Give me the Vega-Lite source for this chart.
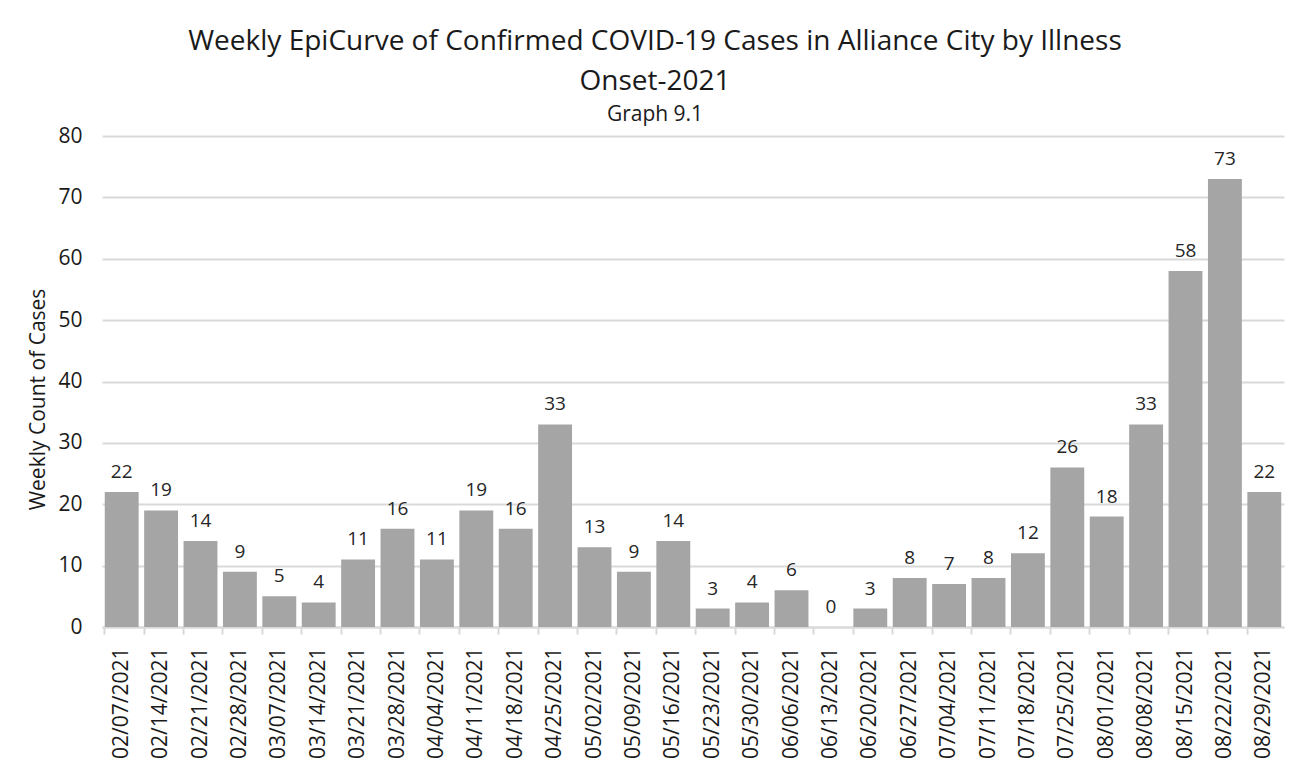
{
  "$schema": "https://vega.github.io/schema/vega-lite/v6.json",
  "autosize": "none",
  "width": 1182,
  "height": 491,
  "padding": {"left": 102, "top": 136, "right": 15, "bottom": 148},
  "background": "white",
  "config": {
    "font": "Open Sans",
    "view": {"stroke": null}
  },
  "title": {
    "text": ["Weekly EpiCurve of Confirmed COVID-19 Cases in Alliance City by Illness", "Onset-2021"],
    "subtitle": "Graph 9.1",
    "anchor": "middle",
    "frame": "group",
    "dx": -38,
    "offset": 0,
    "fontSize": 28,
    "fontWeight": "normal",
    "lineHeight": 40,
    "color": "#1a1a1a",
    "subtitleFontSize": 21,
    "subtitleColor": "#1a1a1a",
    "subtitlePadding": 8
  },
  "data": {
    "values": [
      {"week": "02/07/2021", "cases": 22},
      {"week": "02/14/2021", "cases": 19},
      {"week": "02/21/2021", "cases": 14},
      {"week": "02/28/2021", "cases": 9},
      {"week": "03/07/2021", "cases": 5},
      {"week": "03/14/2021", "cases": 4},
      {"week": "03/21/2021", "cases": 11},
      {"week": "03/28/2021", "cases": 16},
      {"week": "04/04/2021", "cases": 11},
      {"week": "04/11/2021", "cases": 19},
      {"week": "04/18/2021", "cases": 16},
      {"week": "04/25/2021", "cases": 33},
      {"week": "05/02/2021", "cases": 13},
      {"week": "05/09/2021", "cases": 9},
      {"week": "05/16/2021", "cases": 14},
      {"week": "05/23/2021", "cases": 3},
      {"week": "05/30/2021", "cases": 4},
      {"week": "06/06/2021", "cases": 6},
      {"week": "06/13/2021", "cases": 0},
      {"week": "06/20/2021", "cases": 3},
      {"week": "06/27/2021", "cases": 8},
      {"week": "07/04/2021", "cases": 7},
      {"week": "07/11/2021", "cases": 8},
      {"week": "07/18/2021", "cases": 12},
      {"week": "07/25/2021", "cases": 26},
      {"week": "08/01/2021", "cases": 18},
      {"week": "08/08/2021", "cases": 33},
      {"week": "08/15/2021", "cases": 58},
      {"week": "08/22/2021", "cases": 73},
      {"week": "08/29/2021", "cases": 22}
    ]
  },
  "encoding": {
    "x": {
      "field": "week",
      "type": "ordinal",
      "sort": null,
      "scale": {"paddingInner": 0.14, "paddingOuter": 0.07},
      "axis": {
        "title": null,
        "labelAngle": -90,
        "labelAlign": "right",
        "labelBaseline": "middle",
        "labelFontSize": 21,
        "labelColor": "#1a1a1a",
        "labelPadding": 13,
        "bandPosition": 0,
        "tickSize": 7,
        "tickColor": "#d9d9d9",
        "tickWidth": 2,
        "domainColor": "#d9d9d9",
        "domainWidth": 2
      }
    },
    "y": {
      "field": "cases",
      "type": "quantitative",
      "scale": {"domain": [0, 80]},
      "axis": {
        "title": "Weekly Count of Cases",
        "titleFontSize": 21,
        "titleFontWeight": "normal",
        "titleColor": "#1a1a1a",
        "titlePadding": 9,
        "titleY": 263,
        "values": [0, 10, 20, 30, 40, 50, 60, 70, 80],
        "labelFontSize": 21,
        "labelColor": "#1a1a1a",
        "labelPadding": 20,
        "ticks": false,
        "domain": false,
        "gridColor": "#d9d9d9",
        "gridWidth": 2
      }
    }
  },
  "layer": [
    {"mark": {"type": "bar", "color": "#a5a5a5"}},
    {
      "mark": {"type": "text", "baseline": "bottom", "dy": -10, "fontSize": 19, "color": "#262626"},
      "encoding": {"text": {"field": "cases", "type": "quantitative"}}
    }
  ]
}
